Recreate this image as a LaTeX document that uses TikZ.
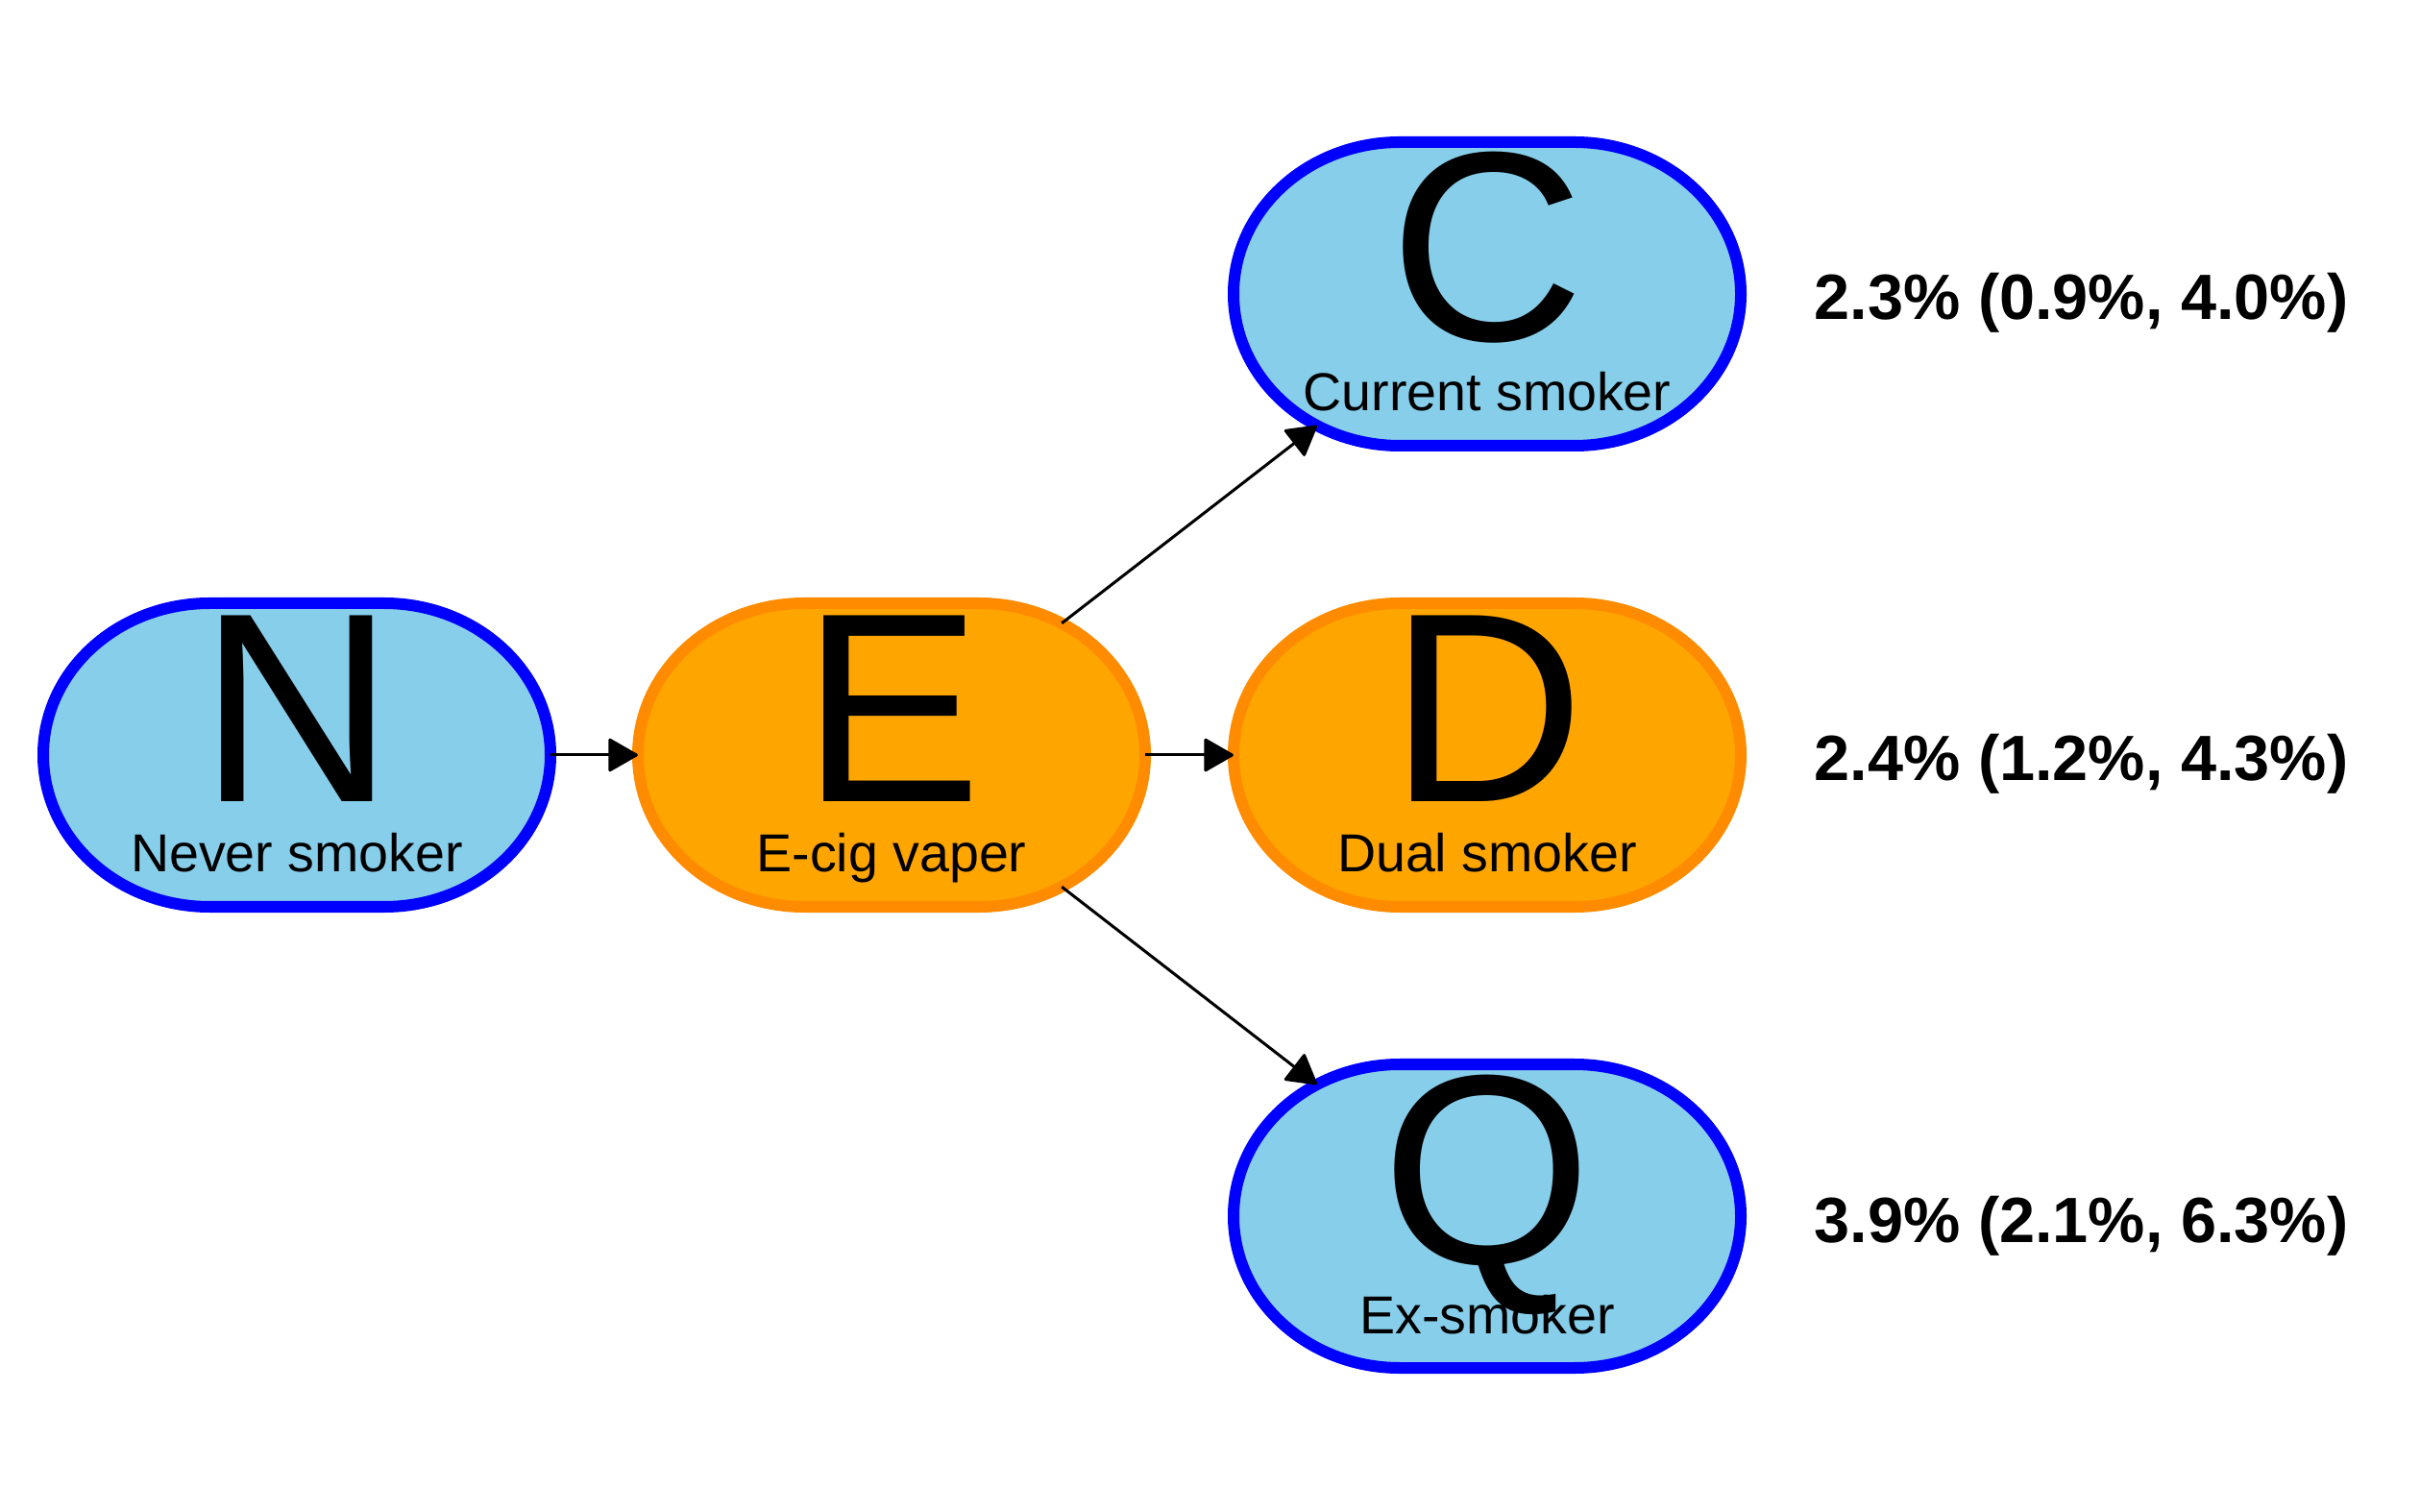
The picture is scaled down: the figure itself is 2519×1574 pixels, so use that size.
\documentclass[tikz,border=0pt]{standalone}
\usepackage{fontspec}
\setmainfont{Liberation Sans}
\usetikzlibrary{arrows.meta,shapes.geometric,backgrounds}
\definecolor{skyfill}{RGB}{135,206,235}
\definecolor{blueline}{RGB}{0,0,255}
\definecolor{orangefill}{RGB}{255,165,0}
\definecolor{orangeline}{RGB}{255,140,0}
\tikzset{
  anchornode/.style={ellipse, minimum width=5.28cm, minimum height=3.16cm, inner sep=0pt, outer sep=0pt, draw=none},
  bluebox/.style={fill=skyfill, draw=blueline, line width=0.12cm},
  orangebox/.style={fill=orangefill, draw=orangeline, line width=0.12cm},
  bigletter/.style={anchor=base, inner sep=0pt, font=\fontsize{80}{80}\selectfont},
  statelabel/.style={anchor=base, inner sep=0pt, font=\fontsize{15.8}{18}\selectfont},
  pct/.style={anchor=base west, inner sep=0pt, font=\fontsize{18.95}{22}\selectfont\bfseries},
  conn/.style={draw=black, line width=0.03cm, -{Triangle[length=0.32cm, width=0.36cm, round]}},
  diag/.style={conn, shorten <=2.24cm, shorten >=2.24cm}
}
\newcommand{\stadiumshape}[2]{%
  \path[#2] ([shift={(-91,158)}]#1.center) -- ++(182,0)
    arc[start angle=90, end angle=-90, x radius=173, y radius=158]
    -- ++(-182,0)
    arc[start angle=270, end angle=90, x radius=173, y radius=158] -- cycle;}
\begin{document}
\begin{tikzpicture}[x=0.01cm, y=0.01cm]
\useasboundingbox (0,0) rectangle (2519,-1574);
% state anchors
\node[anchornode] (N) at (309,-786) {};
\node[anchornode] (E) at (928,-786) {};
\node[anchornode] (C) at (1548,-306) {};
\node[anchornode] (D) at (1548,-786) {};
\node[anchornode] (Q) at (1548,-1266) {};
\begin{scope}[on background layer]
  \stadiumshape{N}{bluebox}
  \stadiumshape{E}{orangebox}
  \stadiumshape{C}{bluebox}
  \stadiumshape{D}{orangebox}
  \stadiumshape{Q}{bluebox}
\end{scope}
% letters
\node[bigletter] (Nl) at ([shift={(0,-49)}]N.center) {N};
\node[bigletter] (El) at ([shift={(0,-49)}]E.center) {E};
\node[bigletter] (Cl) at ([shift={(0,-49)}]C.center) {C};
\node[bigletter] (Dl) at ([shift={(0,-49)}]D.center) {D};
\node[bigletter] (Ql) at ([shift={(0,-49)}]Q.center) {Q};
% labels
\node[statelabel] (Nt) at ([shift={(0,-122)}]N.center) {Never smoker};
\node[statelabel] (Et) at ([shift={(0,-122)}]E.center) {E-cig vaper};
\node[statelabel] (Ct) at ([shift={(0,-122)}]C.center) {Current smoker};
\node[statelabel] (Dt) at ([shift={(0,-122)}]D.center) {Dual smoker};
\node[statelabel] (Qt) at ([shift={(0,-122)}]Q.center) {Ex-smoker};
% percentages
\node[pct] (Cp) at (1888,-333) {2.3\% (0.9\%, 4.0\%)};
\node[pct] (Dp) at (1888,-813) {2.4\% (1.2\%, 4.3\%)};
\node[pct] (Qp) at (1888,-1293) {3.9\% (2.1\%, 6.3\%)};
% connectors
\draw[conn] (N) -- (E);
\draw[conn] (E) -- (D);
\draw[diag] (E.center) -- (C.center);
\draw[diag] (E.center) -- (Q.center);
\end{tikzpicture}
\end{document}
